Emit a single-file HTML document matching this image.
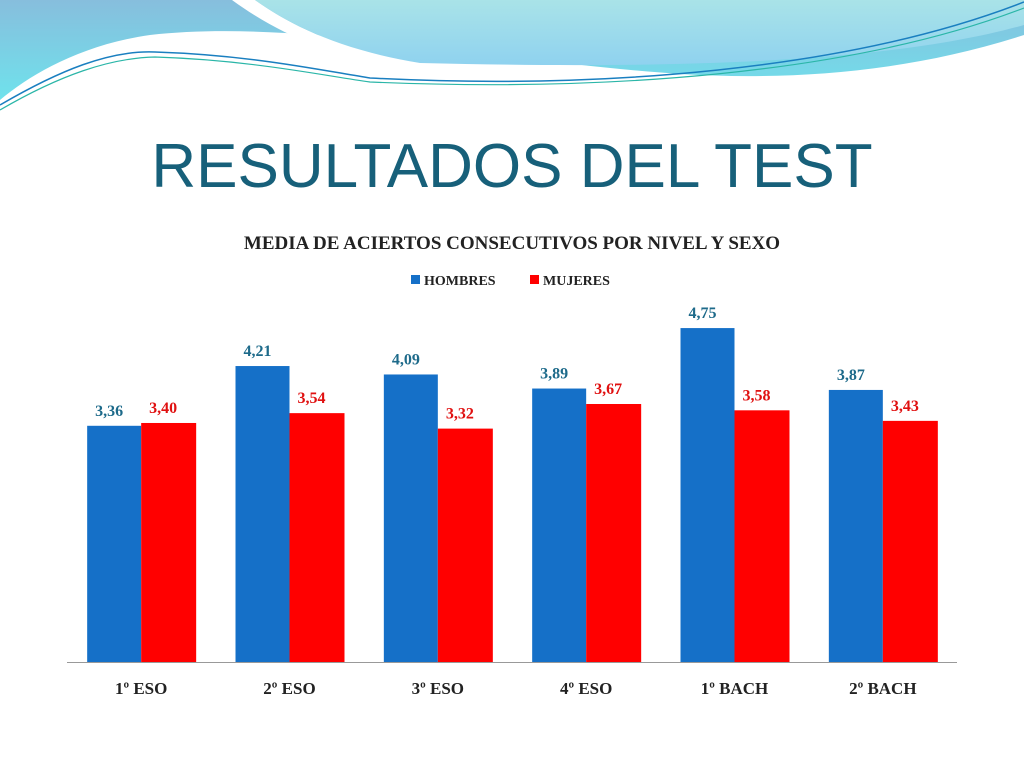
<!DOCTYPE html>
<html><head><meta charset="utf-8"><style>
body{margin:0;width:1024px;height:768px;background:#fff;overflow:hidden;font-family:"Liberation Serif",serif}
</style></head><body>
<svg width="1024" height="768">
<defs>
<linearGradient id="g1" x1="0" y1="0" x2="0" y2="1"><stop offset="0" stop-color="#87bedd"/><stop offset="1" stop-color="#6fe2ec"/></linearGradient>
<linearGradient id="g2" x1="0" y1="0" x2="0" y2="1"><stop offset="0" stop-color="#a9e3e8"/><stop offset="1" stop-color="#8fd2ef"/></linearGradient>
</defs>
<g>
<path d="M0,0 H1024 V35 C900,75 780,80 680,74 C500,62 300,18 150,35 C80,45 30,75 0,100 Z" fill="url(#g1)"/>
<path d="M232,0 C280,35 330,55 385,62 L420,63 C340,50 290,25 255,0 Z" fill="#fff"/>
<path d="M255,0 H1024 V25 C900,60 700,70 420,63 C340,50 290,25 255,0 Z" fill="url(#g2)"/>
<path d="M0,105 C60,70 110,50 155,52 C250,55 320,70 370,78 C600,90 850,70 1024,2" fill="none" stroke="#1a7fc0" stroke-width="1.5"/>
<path d="M0,110 C60,75 110,58 155,57 C250,60 320,75 370,82 C600,92 850,75 1024,8" fill="none" stroke="#2bb6a8" stroke-width="1.2"/>
</g>
<text x="512" y="187" text-anchor="middle" font-family="Liberation Sans, sans-serif" font-size="62" fill="#17607a">RESULTADOS DEL TEST</text>
<text x="512" y="249" text-anchor="middle" font-size="19" font-weight="bold" fill="#222">MEDIA DE ACIERTOS CONSECUTIVOS POR NIVEL Y SEXO</text>
<g>
<rect x="411" y="275" width="9" height="9" fill="#1570c8"/>
<text x="424" y="285" font-size="14" font-weight="bold" fill="#222">HOMBRES</text>
<rect x="530" y="275" width="9" height="9" fill="#ff0000"/>
<text x="543" y="285" font-size="14" font-weight="bold" fill="#222">MUJERES</text>
</g>
<g id="chart"></g>
</svg>
<script>
const categories=["1º ESO","2º ESO","3º ESO","4º ESO","1º BACH","2º BACH"];
const hombres=[3.36,4.21,4.09,3.89,4.75,3.87];
const mujeres=[3.40,3.54,3.32,3.67,3.58,3.43];
const NS="http://www.w3.org/2000/svg";
const g=document.getElementById("chart");
const x0=67,x1=957,base=662,scale=70.3,bw=54;
const step=(x1-x0)/categories.length;
const xc=i=>x0+step*(i+0.5);
const y=v=>base-v*scale;
const fmt=v=>v.toFixed(2).replace(".",",");
function mk(tag,attrs){const e=document.createElementNS(NS,tag);for(const k in attrs)e.setAttribute(k,attrs[k]);g.appendChild(e);return e;}
categories.forEach((c,i)=>{
 const bx=xc(i)-bw;
 const b=mk("rect",{x:bx,y:y(hombres[i]),width:bw,height:base-y(hombres[i]),fill:"#1570c8"});
 
 
 const r=mk("rect",{x:xc(i),y:y(mujeres[i]),width:bw+1,height:base-y(mujeres[i]),fill:"#ff0000"});
 
 
 const t1=mk("text",{x:bx+bw/2-5,y:y(hombres[i])-10,"text-anchor":"middle","font-size":16,"font-weight":"bold",fill:"#1d6a8a"});
 t1.textContent=fmt(hombres[i]);
 
 
 const t2=mk("text",{x:xc(i)+bw/2-5,y:y(mujeres[i])-10,"text-anchor":"middle","font-size":16,"font-weight":"bold",fill:"#e01010"});
 t2.textContent=fmt(mujeres[i]);
 
 
 const cl=mk("text",{x:xc(i),y:694,"text-anchor":"middle","font-size":17,"font-weight":"bold",fill:"#222"});
 cl.textContent=c;
 
 
});
const ax=mk("line",{x1:x0,x2:x1,y1:base+0.5,y2:base+0.5,stroke:"#999","stroke-width":1});


</script>
</body></html>
